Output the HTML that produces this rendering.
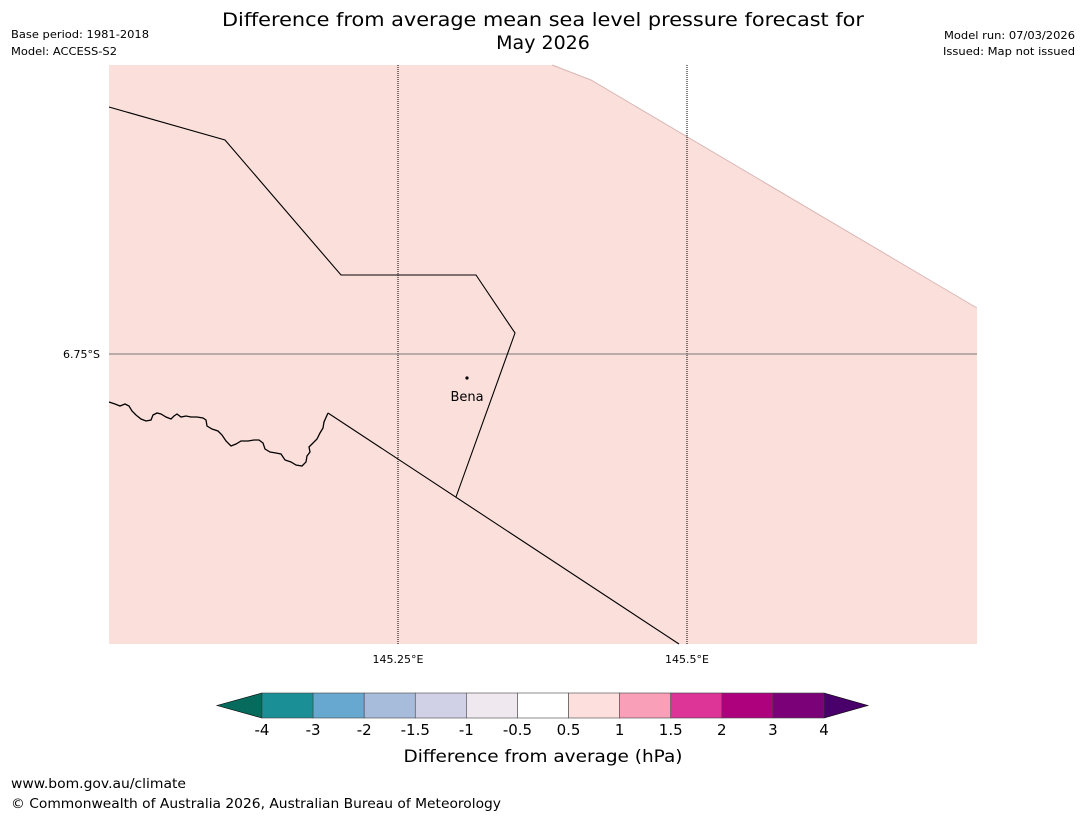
<!DOCTYPE html>
<html><head><meta charset="utf-8">
<style>
body{margin:0;background:#fff;width:1085px;height:816px;overflow:hidden;font-family:"DejaVu Sans","Liberation Sans",sans-serif;}
svg{display:block}
</style></head><body>
<svg id="chart" width="1085" height="816" xmlns="http://www.w3.org/2000/svg" font-family="DejaVu Sans, Liberation Sans, sans-serif">
<g>
<text x="543" y="26" font-size="19" text-anchor="middle" textLength="642" lengthAdjust="spacingAndGlyphs" fill="#000">Difference from average mean sea level pressure forecast for</text>
<text x="543" y="49" font-size="19" text-anchor="middle" fill="#000">May 2026</text>
<text x="11" y="38" font-size="11" textLength="138" lengthAdjust="spacingAndGlyphs">Base period: 1981-2018</text>
<text x="11" y="55" font-size="11" textLength="106" lengthAdjust="spacingAndGlyphs">Model: ACCESS-S2</text>
<text x="1075" y="39" font-size="11" text-anchor="end" textLength="131" lengthAdjust="spacingAndGlyphs">Model run: 07/03/2026</text>
<text x="1075" y="55" font-size="11" text-anchor="end" textLength="132" lengthAdjust="spacingAndGlyphs">Issued: Map not issued</text>
</g>
<g>
<rect x="109" y="65" width="868" height="579" fill="#fbdfdb"/>
<polygon points="552,64 591,80 977,308 977,64" fill="#fff"/>
<polyline points="552,65 591,80 977,308" fill="none" stroke="#d9b8b5" stroke-width="1"/>
<line x1="398" y1="65" x2="398" y2="644" stroke="#000" stroke-width="1" stroke-dasharray="1,1"/>
<line x1="687" y1="65" x2="687" y2="644" stroke="#000" stroke-width="1" stroke-dasharray="1,1"/>
<line x1="109" y1="354" x2="977" y2="354" stroke="#777" stroke-width="1"/>
<polyline points="109,107 225,140 341,275 476,275 515,333 456,497" fill="none" stroke="#000" stroke-width="1.1"/>
<line x1="328" y1="413" x2="679" y2="644" stroke="#000" stroke-width="1.1"/>
<polyline points="109,402 115,404 120,406 125,404 129,406 132,411 136,415 141,419 146,421 151,420 153,415 157,413 161,414 166,417 171,419 174,416 177,414 181,417 186,416 191,417 197,417 203,418 206,420 207,426 212,429 218,431 222,435 226,441 231,446 236,444 241,441 248,441 254,440 259,440 263,443 265,449 270,452 276,453 281,454 285,460 291,462 296,465 302,466 306,462 307,456 310,452 309,447 313,443 317,439 320,433 323,428 324,422 328,413" fill="none" stroke="#000" stroke-width="1.3"/>
<circle cx="467" cy="378" r="1.6" fill="#000"/>
<text x="467" y="401" font-size="13" text-anchor="middle">Bena</text>
<text x="100" y="358" font-size="11" text-anchor="end">6.75°S</text>
<text x="398" y="663" font-size="11" text-anchor="middle">145.25°E</text>
<text x="687" y="663" font-size="11" text-anchor="middle">145.5°E</text>
</g>
<g id="cbar"></g>
<text x="543" y="762" font-size="17" text-anchor="middle" textLength="279" lengthAdjust="spacingAndGlyphs">Difference from average (hPa)</text>
<text x="11" y="788" font-size="13.5" textLength="175" lengthAdjust="spacingAndGlyphs">www.bom.gov.au/climate</text>
<text x="11" y="808" font-size="13.5" textLength="490" lengthAdjust="spacingAndGlyphs">© Commonwealth of Australia 2026, Australian Bureau of Meteorology</text>
</svg>
<script>
const cbBounds = [-4,-3,-2,-1.5,-1,-0.5,0.5,1,1.5,2,3,4];
const cbLabels = ["-4","-3","-2","-1.5","-1","-0.5","0.5","1","1.5","2","3","4"];
const cbColors = ["#1a8f96","#66a8cf","#a7bcdb","#d0d1e6","#efe9ef","#ffffff","#fde0dd","#f9a0b8","#dd3497","#ae017e","#7a0177"];
const cbExtendLow = "#066b5c";
const cbExtendHigh = "#49006a";

const NS = "http://www.w3.org/2000/svg";
const g = document.getElementById("cbar");
const x0 = 262, x1 = 824, yTop = 693, yBot = 718;
const segW = (x1 - x0) / (cbBounds.length - 1);
function xIdx(i){ return x0 + i * segW; }
function mk(tag, attrs){ const e = document.createElementNS(NS, tag); for (const k in attrs) e.setAttribute(k, attrs[k]); return e; }

const low = mk("polygon", {points: `${x0},${yTop} ${x0},${yBot} 217,${(yTop+yBot)/2}`, fill: cbExtendLow, stroke: "#000", "stroke-width": 0.6});


g.appendChild(low);
const high = mk("polygon", {points: `${x1},${yTop} ${x1},${yBot} 868,${(yTop+yBot)/2}`, fill: cbExtendHigh, stroke: "#000", "stroke-width": 0.6});


g.appendChild(high);

cbColors.forEach((c, i) => {
  const r = mk("rect", {x: xIdx(i), y: yTop, width: segW, height: yBot - yTop, fill: c, stroke: "#444", "stroke-width": 0.6});
  
  
  g.appendChild(r);
});
cbLabels.forEach((l, i) => {
  const t = mk("text", {x: xIdx(i), y: 735, "font-size": 15, "text-anchor": "middle"});
  t.textContent = l;
  
  
  g.appendChild(t);
});
</script>
</body></html>
